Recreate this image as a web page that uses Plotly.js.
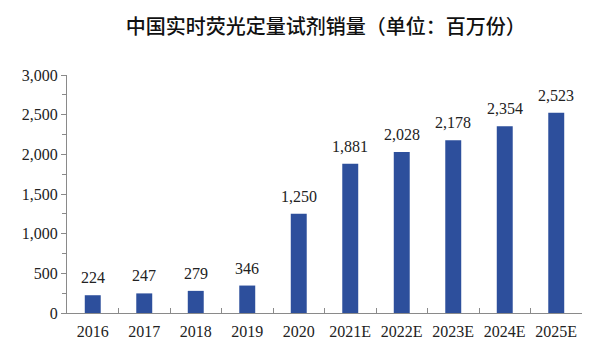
<!DOCTYPE html>
<html><head><meta charset="utf-8">
<script src="https://cdn.plot.ly/plotly-3.0.1.min.js"></script>
<style>body{margin:0;background:#fff}#c{width:600px;height:357px}</style>
</head><body><div id="c"></div>
<script>
const categories = ["2016","2017","2018","2019","2020","2021E","2022E","2023E","2024E","2025E"];
const sales = [224,247,279,346,1250,1881,2028,2178,2354,2523];
const yTicks = [0,500,1000,1500,2000,2500,3000];
const titleText = "中国实时荧光定量试剂销量（单位：百万份）";

const serif = "Liberation Serif, Times New Roman, serif";
const labels = categories.map((c, i) => ({
  x: i, y: sales[i], xref: "x", yref: "y",
  text: sales[i].toLocaleString("en-US"),
  showarrow: false, yanchor: "bottom", yshift: 7,
  font: {family: serif, size: 16, color: "#222"}
}));
Plotly.newPlot("c", [{
  type: "bar",
  x: categories,
  y: sales,
  marker: {color: "#2D4F9C"},
  hoverinfo: "none"
}], {
  width: 600, height: 357,
  margin: {l: 67, r: 18, t: 75, b: 44},
  paper_bgcolor: "#fff", plot_bgcolor: "#fff",
  bargap: 0.69,
  showlegend: false,
  annotations: labels,
  title: {text: titleText, x: 0.543, xanchor: "center", y: 0.925, yanchor: "middle",
    font: {family: "Noto Sans CJK SC, sans-serif", size: 20, weight: 500, color: "#111"}},
  xaxis: {
    type: "category",
    categoryorder: "array", categoryarray: categories,
    range: [-0.5, categories.length - 0.5],
    showline: true, linecolor: "#8a8a8a", linewidth: 1,
    ticks: "inside", ticklen: 5, tickcolor: "#8a8a8a", tickson: "boundaries",
    ticklabelstandoff: 4,
    showgrid: false, zeroline: false,
    tickfont: {family: serif, size: 16, color: "#222"},
    fixedrange: true
  },
  yaxis: {
    range: [0, 3000],
    tickvals: yTicks,
    ticktext: yTicks.map(v => v.toLocaleString("en-US")),
    showline: true, linecolor: "#8a8a8a", linewidth: 1,
    ticks: "outside", ticklen: 5, tickcolor: "#8a8a8a",
    minor: {dtick: 250, ticks: "outside", ticklen: 4, tickcolor: "#8a8a8a", showgrid: false},
    showgrid: false, zeroline: false,
    tickfont: {family: serif, size: 16, color: "#222"},
    fixedrange: true
  }
}, {displayModeBar: false, staticPlot: true});
</script></body></html>
